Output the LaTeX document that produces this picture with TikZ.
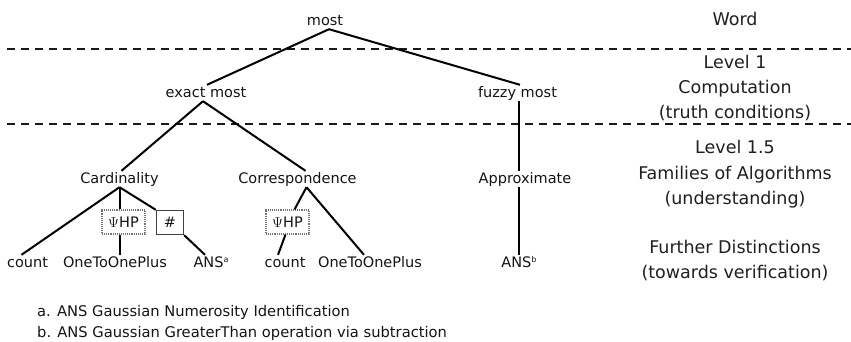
\documentclass[tikz,border=0pt]{standalone}
\usepackage{fontspec}
\setmainfont{DejaVu Sans}
\begin{document}
\begin{tikzpicture}[x=1pt,y=-1pt,
  lbl/.style={anchor=base, inner sep=1pt, text height=11pt, text depth=3pt,
    font=\fontsize{14.5}{16}\selectfont, text=black!92},
  lvl/.style={anchor=base, inner sep=0pt, font=\fontsize{17.5}{20}\selectfont, text=black!88},
  foot/.style={anchor=base west, inner sep=0pt, font=\fontsize{14.7}{16}\selectfont, text=black!92},
  edge/.style={line width=2pt, black},
  sep/.style={line width=1.8pt, dash pattern=on 8pt off 6pt, black!90},
  psibox/.style={draw=black!55, densely dotted, line width=1.1pt, minimum width=43pt,
    minimum height=24pt, inner sep=0pt, font=\fontsize{14.5}{16}\selectfont, text=black!92},
  hashbox/.style={draw=black!75, line width=1.3pt, minimum width=27pt,
    minimum height=24pt, inner sep=0pt, font=\fontsize{14.5}{16}\selectfont, text=black!92}]
\newcommand{\supl}[1]{\raisebox{0.55ex}{\fontsize{8}{8}\selectfont #1}}
\useasboundingbox (0,0) rectangle (851,341);

% separators
\coordinate (s1a) at (7,49);  \coordinate (s1b) at (851,49);
\coordinate (s2a) at (7,124); \coordinate (s2b) at (851,124);
\draw[sep] (s1a) -- (s1b);
\draw[sep] (s2a) -- (s2b);

% tree nodes
\node[lbl] (most)  at (325,25)  {most};
\node[lbl] (exact) at (206,97)  {exact most};
\node[lbl] (fuzzy) at (517.5,97) {fuzzy most};
\node[lbl] (card)  at (119.5,183) {Cardinality};
\node[lbl] (corr)  at (297.5,183) {Correspondence};
\node[lbl] (appr)  at (525,183) {Approximate};
\node[lbl] (cnt1)  at (27.5,267) {count};
\node[lbl] (one1)  at (115,267) {OneToOnePlus};
\node[lbl] (ansa)  at (211,267) {ANS\supl{a}};
\node[lbl] (cnt2)  at (285,267) {count};
\node[lbl] (one2)  at (370,267) {OneToOnePlus};
\node[lbl] (ansb)  at (519,267) {ANS\supl{b}};

\node[psibox]  (psi1) at (123.5,222) {$\Psi$HP};
\node[hashbox] (hash) at (170,222.5) {\#};
\node[psibox]  (psi2) at (287.5,222) {$\Psi$HP};

% edges
\draw[edge] ([xshift=4pt]most.south) -- ([xshift=1pt]exact.north);
\draw[edge] ([xshift=4pt]most.south) -- ([xshift=2.5pt]fuzzy.north);
\coordinate (fz) at ([xshift=1.5pt]fuzzy.south);
\draw[edge] (fz) -- (fz |- appr.north);
\draw[edge] (fz |- appr.south) -- (fz |- ansb.north);

\draw[edge] ([xshift=-3pt]exact.south) -- ([xshift=2pt]card.north);
\draw[edge] ([xshift=-3pt]exact.south) -- ([xshift=8pt]corr.north);

\draw[edge] (card.south) -- ([xshift=-6pt]cnt1.north);
\draw[edge] (card.south) -- (card.south |- psi1.north);
\draw[edge] (card.south |- psi1.south) -- (card.south |- one1.north);
\draw[edge] (card.south) -- (hash.north west);
\draw[edge] (hash.south east) -- ([xshift=-6pt]ansa.north);

\draw[edge] ([xshift=9pt]corr.south) -- ([xshift=7pt]psi2.north);
\draw[edge] ([xshift=9pt]corr.south) -- ([xshift=-6pt]one2.north);
\draw[edge] ([xshift=-2pt]psi2.south) -- ([xshift=-7pt]cnt2.north);

% level labels
\node[lvl] (word) at (735,25)  {Word};
\node[lvl] (l1a)  at (735,68)  {Level 1};
\node[lvl] (l1b)  at (735,93)  {Computation};
\node[lvl] (l1c)  at (735,118) {(truth conditions)};
\node[lvl] (l2a)  at (735,153) {Level 1.5};
\node[lvl] (l2b)  at (735,179) {Families of Algorithms};
\node[lvl] (l2c)  at (735,204) {(understanding)};
\node[lvl] (l3a)  at (735,253) {Further Distinctions};
\node[lvl] (l3b)  at (735,278) {(towards verification)};

% footnotes
\node[foot] (fa) at (37,316) {a. ANS Gaussian Numerosity Identification};
\node[foot] (fb) at (37,337) {b. ANS Gaussian GreaterThan operation via subtraction};
\end{tikzpicture}
\end{document}
